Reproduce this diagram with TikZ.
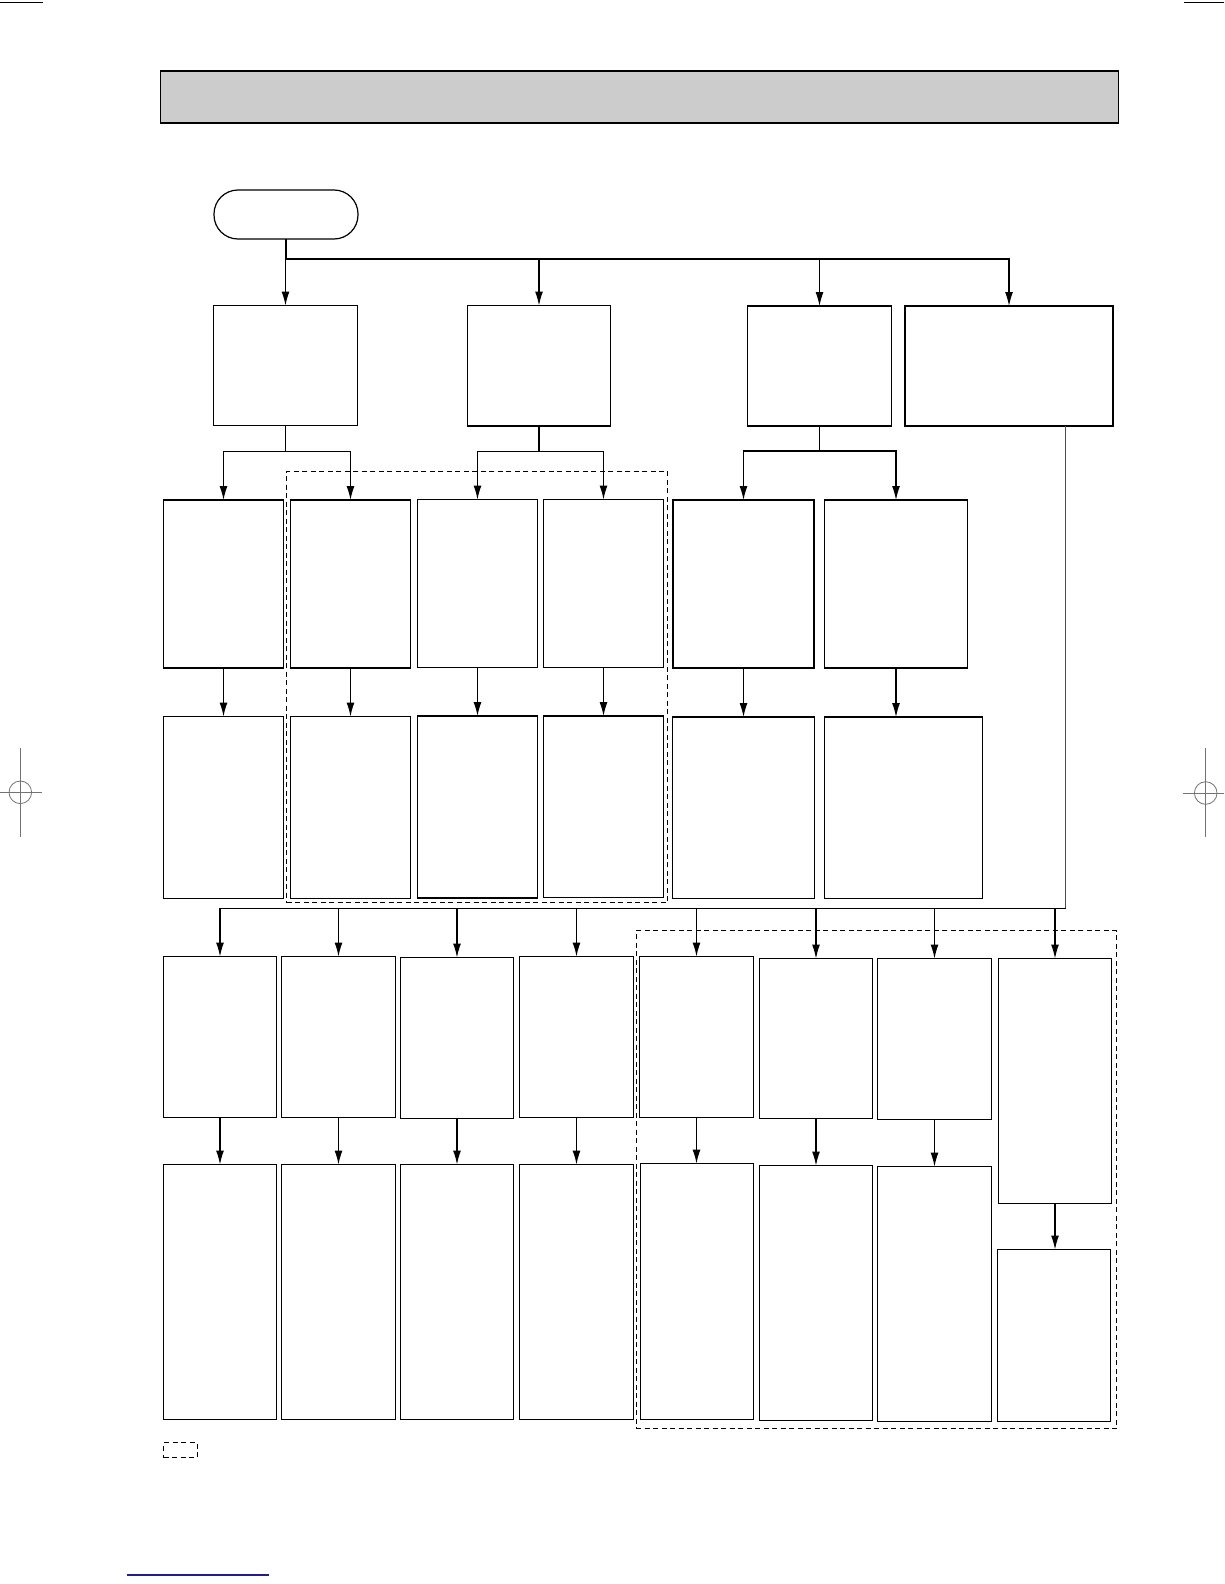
\documentclass[tikz,border=0pt]{standalone}
\usepackage{tikz}
\usetikzlibrary{arrows.meta}
\usetikzlibrary{calc}

\definecolor{hdrgray}{RGB}{204,204,204}
\definecolor{linkblue}{RGB}{30,30,140}

\tikzset{
    blk/.style={draw, rectangle, anchor=north west, inner sep=0pt, outer sep=0pt, line width=1.2pt},
    arr/.style={line width=1.2pt, -{Latex[length=14pt,width=8pt]}},
    wire/.style={line width=1.2pt},
    grp/.style={draw, dash pattern=on 5pt off 3.5pt, line width=1pt},
    regmark/.style={draw=black!55, line width=0.8pt}
}

\begin{document}
\begin{tikzpicture}[x=1pt, y=-1pt]
                \useasboundingbox (0,0) rectangle (1224,1584);

                % page marks
                \draw[line width=1pt] (0,2.3) -- (43,2.3);
                \draw[line width=1pt] (1184,2.3) -- (1224,2.3);
                \draw[regmark] (20.3,792.3) circle (11.3pt);
                \draw[regmark] (0,792.3) -- (42.3,792.3);
                \draw[regmark] (20.3,748.3) -- (20.3,837.3);
                \draw[regmark] (1205.7,793) circle (11.3pt);
                \draw[regmark] (1183.3,793) -- (1224,793);
                \draw[regmark] (1205.7,748.3) -- (1205.7,837.3);
                \draw[line width=1.5pt, linkblue] (127.3,1575) -- (268.7,1575);

                % header bar
                \node[blk, fill=hdrgray, minimum width=958pt, minimum height=52pt] (hdr) at (160.5,71) {};

                % start
                \node[blk, rounded corners=24pt, minimum width=144pt, minimum height=49pt] (start) at (214,190) {};

                % first level
                \node[blk, minimum width=144pt, minimum height=120pt] (a1) at (213.5,305.5) {};
                \node[blk, minimum width=143pt, minimum height=120.5pt] (a2) at (467.5,305.5) {};
                \node[blk, minimum width=144pt, minimum height=120pt] (a3) at (747.5,306) {};
                \node[blk, minimum width=208pt, minimum height=120pt] (a4) at (905,306) {};

                % second level
                \node[blk, minimum width=120pt, minimum height=168pt] (b1) at (163.5,500) {};
                \node[blk, minimum width=120pt, minimum height=168pt] (b2) at (290.5,500) {};
                \node[blk, minimum width=120pt, minimum height=168pt] (b3) at (417.5,499.5) {};
                \node[blk, minimum width=120pt, minimum height=168pt] (b4) at (543.5,499.5) {};
                \node[blk, minimum width=141pt, minimum height=168pt] (b5) at (673,500) {};
                \node[blk, minimum width=143pt, minimum height=168pt] (b6) at (824.5,500) {};

                \node[blk, minimum width=120pt, minimum height=182pt] (c1) at (163.5,716.5) {};
                \node[blk, minimum width=120pt, minimum height=182pt] (c2) at (290.5,716.5) {};
                \node[blk, minimum width=120pt, minimum height=182pt] (c3) at (417.5,716) {};
                \node[blk, minimum width=120pt, minimum height=181.5pt] (c4) at (543.5,716) {};
                \node[blk, minimum width=142pt, minimum height=181.5pt] (c5) at (672.5,717) {};
                \node[blk, minimum width=158pt, minimum height=181.5pt] (c6) at (824.5,717) {};

                % third level
                \node[blk, minimum width=113pt, minimum height=161pt] (d1) at (163.5,956.5) {};
                \node[blk, minimum width=114pt, minimum height=161pt] (d2) at (281.5,956.5) {};
                \node[blk, minimum width=113pt, minimum height=161pt] (d3) at (400.5,957.5) {};
                \node[blk, minimum width=114pt, minimum height=161pt] (d4) at (519.5,956.5) {};
                \node[blk, minimum width=114pt, minimum height=161pt] (d5) at (639.5,956.5) {};
                \node[blk, minimum width=113pt, minimum height=160pt] (d6) at (759.5,958.5) {};
                \node[blk, minimum width=114pt, minimum height=161pt] (d7) at (877.5,958.5) {};
                \node[blk, minimum width=113pt, minimum height=245pt] (d8) at (998.5,958.5) {};

                \node[blk, minimum width=113pt, minimum height=255pt] (e1) at (163.5,1164.5) {};
                \node[blk, minimum width=114pt, minimum height=255pt] (e2) at (281.5,1164.5) {};
                \node[blk, minimum width=113pt, minimum height=255pt] (e3) at (400.5,1164.5) {};
                \node[blk, minimum width=114pt, minimum height=255pt] (e4) at (519.5,1164.5) {};
                \node[blk, minimum width=113pt, minimum height=256pt] (e5) at (640.5,1163.5) {};
                \node[blk, minimum width=113pt, minimum height=255pt] (e6) at (759.5,1165.5) {};
                \node[blk, minimum width=114pt, minimum height=255pt] (e7) at (877.5,1166.5) {};
                \node[blk, minimum width=113pt, minimum height=172pt] (e8) at (997.5,1249.5) {};

                % dashed groups
                \node[grp, anchor=north west, inner sep=0pt, minimum width=381pt, minimum height=431.6pt] (grpA) at (286.3,470.7) {};
                \node[grp, anchor=north west, inner sep=0pt, minimum width=480.3pt, minimum height=498pt] (grpB) at (635.7,930.3) {};
                \node[grp, anchor=north west, inner sep=0pt, minimum width=33.4pt, minimum height=15pt] (key) at (163.3,1442.3) {};

                % junctions
                \coordinate (top) at ($(start.south)+(0,20)$);
                \coordinate (ja1) at ($(a1.south)+(0,26)$);
                \coordinate (ja2) at ($(a2.south)+(0,25.5)$);
                \coordinate (ja3) at ($(a3.south)+(0,25)$);
                \coordinate (low) at (1065.7,908.3);

                % start to first level
                \draw[arr] (start.south) |- (a4.north |- top) -- (a4.north);
                \draw[arr] (a1.north |- top) -- (a1.north);
                \draw[arr] (a2.north |- top) -- (a2.north);
                \draw[arr] (a3.north |- top) -- (a3.north);

                % first to second level
                \draw[wire] (a1.south) -- (ja1);
                \draw[arr] (ja1) -| (b1.north);
                \draw[arr] (ja1) -| (b2.north);
                \draw[wire] (a2.south) -- (ja2);
                \draw[arr] (ja2) -| (b3.north);
                \draw[arr] (ja2) -| (b4.north);
                \draw[wire] (a3.south) -- (ja3);
                \draw[arr] (ja3) -| (b5.north);
                \draw[arr] (ja3) -| (b6.north);

                \draw[arr] (b1.south) -- (b1.south |- c1.north);
                \draw[arr] (b2.south) -- (b2.south |- c2.north);
                \draw[arr] (b3.south) -- (b3.south |- c3.north);
                \draw[arr] (b4.south) -- (b4.south |- c4.north);
                \draw[arr] (b5.south) -- (b5.south |- c5.north);
                \draw[arr] (b6.south) -- (b6.south |- c6.north);

                % right branch down to third level
                \draw[wire, draw=black!70] (a4.south -| low) -- (low);
                \draw[wire] (low) -- (d1.north |- low);
                \draw[arr] (d1.north |- low) -- (d1.north);
                \draw[arr] (d2.north |- low) -- (d2.north);
                \draw[arr] (d3.north |- low) -- (d3.north);
                \draw[arr] (d4.north |- low) -- (d4.north);
                \draw[arr] (d5.north |- low) -- (d5.north);
                \draw[arr] (d6.north |- low) -- (d6.north);
                \draw[arr] (d7.north |- low) -- (d7.north);
                \draw[arr] (d8.north |- low) -- (d8.north);

                \draw[arr] (d1.south) -- (d1.south |- e1.north);
                \draw[arr] (d2.south) -- (d2.south |- e2.north);
                \draw[arr] (d3.south) -- (d3.south |- e3.north);
                \draw[arr] (d4.south) -- (d4.south |- e4.north);
                \draw[arr] (d5.south) -- (d5.south |- e5.north);
                \draw[arr] (d6.south) -- (d6.south |- e6.north);
                \draw[arr] (d7.south) -- (d7.south |- e7.north);
                \draw[arr] (d8.south) -- (d8.south |- e8.north);
            \end{tikzpicture}
\end{document}
